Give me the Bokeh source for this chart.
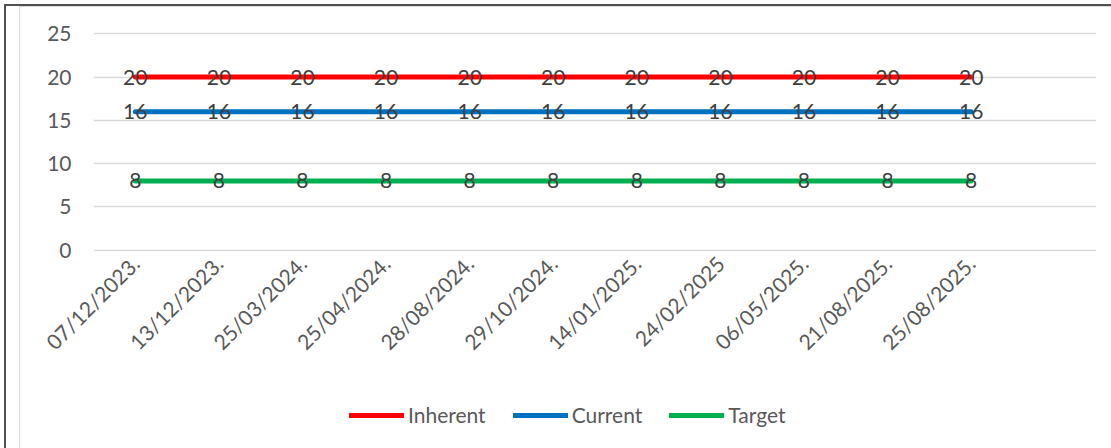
from bokeh.plotting import figure
from bokeh.models import Range1d, FixedTicker, Legend, LegendItem, ColumnDataSource
from bokeh.layouts import column
from bokeh.embed import file_html
from bokeh.resources import INLINE
from bokeh.core.properties import value

dates = ["07/12/2023.", "13/12/2023.", "25/03/2024.", "25/04/2024.", "28/08/2024.",
         "29/10/2024.", "14/01/2025.", "24/02/2025", "06/05/2025.", "21/08/2025.", "25/08/2025."]
inherent = [20, 20, 20, 20, 20, 20, 20, 20, 20, 20, 20]
current = [16, 16, 16, 16, 16, 16, 16, 16, 16, 16, 16]
target = [8, 8, 8, 8, 8, 8, 8, 8, 8, 8, 8]
y_ticks = [0, 5, 10, 15, 20, 25]

FONT = "Lato"
FS = "21px"

xs = list(range(len(dates)))
series = [("Inherent", inherent, "#FF0000"), ("Current", current, "#0070C0"), ("Target", target, "#00B050")]

# ---- main chart ----
p = figure(width=1111, height=380, x_range=Range1d(-0.5, 11.5), y_range=Range1d(-0.15, 25.15),
           output_backend="svg", toolbar_location=None,
           min_border_left=93, min_border_right=15, min_border_top=32, min_border_bottom=129)
p.outline_line_color = None
p.background_fill_color = "white"
p.border_fill_color = None
p.styles = {"box-shadow": "inset 4px 4px 0 0 white, inset 6px 6px 0 0 #505050, "
                          "inset 19px 6px 0 0 white, inset 20px 7px 0 0 #D9D9D9"}

p.xgrid.grid_line_color = None
p.ygrid.grid_line_color = "#D9D9D9"
p.ygrid.grid_line_width = 1.5
p.yaxis.ticker = FixedTicker(ticks=y_ticks)
p.xaxis.ticker = FixedTicker(ticks=xs)
p.xaxis.major_label_overrides = {i: d for i, d in enumerate(dates)}
p.xaxis.major_label_orientation = 0.785398

for ax in (p.xaxis, p.yaxis):
    ax.axis_line_color = None
    ax.major_tick_line_color = None
    ax.minor_tick_line_color = None
    ax.major_tick_out = 0
    ax.major_tick_in = 0
    ax.major_label_text_font = FONT
    ax.major_label_text_font_size = FS
    ax.major_label_text_color = "#595959"
p.yaxis.major_label_standoff = 22
p.xaxis.major_label_standoff = 8

for name, vals, col in series:
    src = ColumnDataSource(dict(x=xs, y=vals))
    p.line("x", "y", source=src, line_color=col, line_width=5, line_cap="round")
for name, vals, col in series:
    src = ColumnDataSource(dict(x=xs, y=vals, t=[str(v) for v in vals]))
    p.text("x", "y", text="t", source=src, text_align="center", text_baseline="middle",
           text_font=value(FONT), text_font_size=FS, text_color="#404040")

# ---- legend strip (same series, drawn outside its visible range) ----
q = figure(width=1111, height=68, x_range=Range1d(-0.5, 11.5), y_range=Range1d(100, 101),
           output_backend="svg", toolbar_location=None,
           min_border_left=0, min_border_right=0, min_border_top=0, min_border_bottom=0)
q.axis.visible = False
q.grid.visible = False
q.outline_line_color = None
q.background_fill_color = None
q.border_fill_color = None
q.styles = {"box-shadow": "inset 4px 0 0 0 white, inset 6px 0 0 0 #505050, "
                          "inset 19px 0 0 0 white, inset 20px 0 0 0 #D9D9D9"}

items = []
for name, vals, col in series:
    r = q.line(xs, vals, line_color=col, line_width=5, line_cap="round")
    items.append(LegendItem(label=name, renderers=[r]))

legend = Legend(items=items, orientation="horizontal", location=(256, 21))
legend.border_line_color = None
legend.background_fill_alpha = 0
legend.label_text_font = FONT
legend.label_text_font_size = FS
legend.label_text_color = "#595959"
legend.glyph_width = 55
legend.glyph_height = 20
legend.label_standoff = 4
legend.spacing = 27
legend.padding = 5
legend.margin = 0
q.add_layout(legend, "center")

layout = column(p, q, spacing=0)
open("out.html", "w").write(file_html(layout, INLINE))
